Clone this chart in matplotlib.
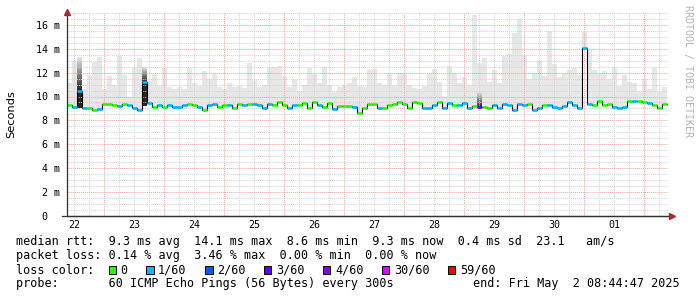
import numpy as np
import pandas as pd
import matplotlib
matplotlib.use('Agg')
import matplotlib.pyplot as plt
import matplotlib.dates as mdates
from matplotlib.patches import Rectangle

# 2 hour steps, Apr 22 09:00 -> May 2 09:00
times = pd.date_range('2025-04-22 09:00', periods=120, freq='2h')

median_ms = [
  9.3, 9.15, 10.45, 9.05, 9.0, 8.9, 8.95, 9.35, 9.4, 9.3,
  9.2, 9.35, 9.3, 9.05, 8.9, 11.2, 9.45, 9.15, 9.3, 9.1,
  9.3, 9.1, 9.1, 9.3, 9.4, 9.3, 9.1, 8.85, 9.25, 9.4,
  9.1, 9.3, 9.3, 9.0, 9.4, 9.3, 9.35, 9.35, 9.3, 9.0,
  9.35, 9.3, 9.5, 9.3, 9.0, 9.3, 9.25, 9.45, 9.0, 9.5,
  9.25, 9.15, 9.45, 8.95, 9.2, 9.2, 9.2, 9.15, 8.6, 9.0,
  9.4, 9.4, 9.05, 9.05, 9.25, 9.35, 9.55, 9.35, 9.0, 9.55,
  9.45, 9.05, 9.0, 9.3, 9.5, 9.0, 9.45, 9.3, 9.3, 9.45,
  9.05, 9.2, 9.1, 9.1, 9.05, 9.3, 9.0, 9.35, 9.3, 8.85,
  9.35, 9.25, 9.35, 8.9, 9.05, 9.3, 9.3, 9.15, 9.0, 9.2,
  9.55, 9.3, 9.0, 14.05, 9.35, 9.25, 9.6, 9.3, 9.35, 9.1,
  9.05, 9.15, 9.6, 9.6, 9.65, 9.55, 9.45, 9.3, 9.0, 9.4,
]

# lost pings out of 60
loss = [
  0, 1, 1, 1, 0, 0, 1, 0, 0, 0, 1, 0, 1, 1, 1, 1, 1, 0, 1, 0,
  1, 1, 1, 1, 0, 0, 1, 0, 1, 1, 0, 0, 1, 0, 0, 1, 0, 1, 1, 1,
  1, 0, 0, 0, 1, 1, 0, 0, 0, 0, 1, 0, 0, 1, 0, 0, 0, 1, 0, 0,
  0, 0, 1, 0, 0, 0, 0, 0, 0, 0, 0, 1, 1, 1, 0, 1, 1, 0, 1, 1,
  1, 0, 3, 0, 0, 1, 1, 1, 1, 1, 1, 1, 0, 1, 1, 0, 1, 1, 1, 1,
  1, 1, 1, 1, 1, 0, 0, 0, 0, 1, 1, 1, 0, 1, 0, 0, 1, 0, 0, 0,
]

# highest ping of each step (top of the smoke)
smoke_hi = [
  11.1, 13.0, 13.2, 10.6, 11.8, 12.9, 13.3, 10.6, 11.7, 10.95,
  13.4, 11.8, 10.0, 12.4, 13.2, 12.4, 11.3, 11.9, 10.9, 12.4,
  10.8, 10.6, 10.8, 10.6, 12.4, 11.1, 10.9, 12.1, 11.5, 11.9,
  10.8, 10.6, 11.1, 10.8, 10.9, 10.7, 12.8, 11.4, 10.8, 11.0,
  12.5, 12.5, 12.6, 11.7, 10.8, 11.5, 10.5, 11.0, 12.4, 11.9,
  11.1, 12.5, 11.0, 10.4, 10.8, 11.0, 11.1, 11.6, 10.9, 10.8,
  12.2, 12.3, 11.1, 11.0, 11.9, 11.0, 12.0, 11.9, 11.0, 10.7,
  10.6, 10.9, 11.9, 12.3, 11.2, 10.0, 12.6, 12.0, 11.1, 11.6,
  11.0, 16.8, 12.8, 13.2, 11.2, 12.2, 11.1, 13.4, 13.6, 15.3,
  16.5, 13.5, 11.5, 12.0, 13.0, 11.7, 15.5, 12.7, 11.6, 12.0,
  12.2, 12.4, 11.8, 15.4, 14.0, 12.2, 11.9, 12.1, 11.5, 12.5,
  10.9, 11.8, 11.2, 11.1, 10.5, 11.5, 10.6, 12.4, 10.4, 10.8,
]

# steps with dense dark smoke
burst_idx = [2, 15, 82]
burst_lo = [9.0, 9.2, 9.1]
burst_hi = [13.2, 12.4, 10.3]

loss_levels = [0, 1, 2, 3, 4, 30, 59]
loss_labels = ['0', '1/60', '2/60', '3/60', '4/60', '30/60', '59/60']
loss_colors = ['#26ff00', '#00b8ff', '#0059ff', '#5e00ff', '#7e00ff', '#dd00ff', '#ff0000']

W, H = 697, 297
MONO = 'DejaVu Sans Mono'

def fx(px):
  return px / W

def fy(py):
  return 1 - py / H

def loss_color(n):
  c = loss_colors[0]
  for lv, col in zip(loss_levels, loss_colors):
    if n >= lv:
      c = col
  return c

fig = plt.figure(figsize=(W / 100, H / 100), dpi=100)
y0, y1 = 0, 17.1
ax_left, ax_right, ax_bot = 67, 668, 215.7
ax_top = ax_bot - (y1 - y0) * 11.92
ax = fig.add_axes([fx(ax_left), fy(ax_bot), (ax_right - ax_left) / W, (ax_bot - ax_top) / H])

tn = mdates.date2num(times.to_pydatetime())
step = 2 / 24
med = np.array(median_ms)
hi = np.array(smoke_hi)
t_edges = np.append(tn, tn[-1] + step)

# smoke
ax.fill_between(t_edges, np.append(med, med[-1]), np.append(hi, hi[-1]),
                step='post', color='#e7e7e7', lw=0, zorder=1)

for i, lo, top in zip(burst_idx, burst_lo, burst_hi):
  ys = np.linspace(lo, top, 80)
  m = med[i]
  dark = np.where(ys <= m, 0.85, 0.1 + 0.75 * (1 - (ys - m) / max(top - m, 1e-6)))
  img = np.repeat((1 - dark)[:, None], 2, axis=1)
  ax.imshow(img, extent=[tn[i], tn[i] + step, lo, top], origin='lower', cmap='gray',
            vmin=0, vmax=1, aspect='auto', zorder=2, interpolation='bilinear')

# grid
start = mdates.date2num(pd.Timestamp('2025-04-22').to_pydatetime())
for k in range(0, 11 * 4):
  t = start + k * 0.25
  if k % 4 == 0:
    ax.axvline(t, color='#f0a0a0', lw=0.7, ls=(0, (1, 1)), zorder=2.5)
  else:
    ax.axvline(t, color='#d2d2d2', lw=0.7, ls=(0, (1, 1)), zorder=2.5)
for v in np.arange(0.5, 17.01, 0.5):
  if abs(v % 2) < 1e-9:
    ax.axhline(v, color='#f0a0a0', lw=0.7, ls=(0, (1, 1)), zorder=2.5)
  else:
    ax.axhline(v, color='#d2d2d2', lw=0.7, ls=(0, (1, 1)), zorder=2.5)

# median line + loss colour
ax.step(t_edges, np.append(med, med[-1]), where='post', color='#000000', lw=0.8, zorder=4)
ax.hlines(med, tn, tn + step, colors=[loss_color(n) for n in loss], lw=1.9, zorder=5)

ax.set_xlim(start + 0.383, start + 10.4)
ax.set_ylim(y0, y1)

ax.spines['top'].set_visible(False)
ax.spines['right'].set_visible(False)
for s in ('left', 'bottom'):
  ax.spines[s].set_color('#303030')
  ax.spines[s].set_linewidth(0.9)
  ax.spines[s].set_zorder(6)

ax.set_yticks(np.arange(0, 17, 2))
ax.set_yticklabels(['0  '] + ['%d m' % v for v in range(2, 17, 2)])
noon = [start + d + 0.5 for d in range(10)]
ax.set_xticks(noon)
ax.xaxis.set_major_formatter(mdates.DateFormatter('%d'))
ax.tick_params(length=0, labelsize=7.2, colors='#000000')
ax.tick_params(axis='y', pad=5)
ax.tick_params(axis='x', pad=3)
for lab in ax.get_xticklabels() + ax.get_yticklabels():
  lab.set_family(MONO)

# arrows
ax.plot([0], [1.0], marker='^', ms=4, color='#a52a2a', transform=ax.transAxes, clip_on=False, zorder=7)
ax.plot([1.0 + 4 / 601], [0], marker='>', ms=4, color='#a52a2a', transform=ax.transAxes, clip_on=False, zorder=7)
ax.plot([-5 / 601, 1.0 + 4 / 601], [0, 0], color='#303030', lw=0.9, transform=ax.transAxes, clip_on=False, zorder=6)

fig.text(fx(11), fy(114), 'Seconds', rotation=90, ha='center', va='center', fontsize=8.2, family='DejaVu Sans')
fig.text(fx(688), fy(5), 'RRDTOOL / TOBI OETIKER', rotation=270, ha='center', va='top',
         fontsize=7.2, family=MONO, color='#b4b4b4')

# legend
fs = 8.5
fig.text(fx(16), fy(244.5), 'median rtt:  9.3 ms avg  14.1 ms max  8.6 ms min  9.3 ms now  0.4 ms sd  23.1   am/s',
         family=MONO, fontsize=fs, va='baseline')
fig.text(fx(16), fy(259), 'packet loss: 0.14 % avg  3.46 % max  0.00 % min  0.00 % now',
         family=MONO, fontsize=fs, va='baseline')
fig.text(fx(16), fy(273.5), 'loss color:', family=MONO, fontsize=fs, va='baseline')
bx = 108.5
cw = 7.11
for lab, col in zip(loss_labels, loss_colors):
  fig.patches.append(Rectangle((fx(bx), fy(273.5)), 7.5 / W, 7.5 / H, transform=fig.transFigure,
                               facecolor=col, edgecolor='#000000', lw=0.7))
  fig.text(fx(bx + 12), fy(273.5), lab, family=MONO, fontsize=fs, va='baseline')
  bx = bx + 12 + len(lab) * cw + 18.5
fig.text(fx(16), fy(287.5), 'probe:       60 ICMP Echo Pings (56 Bytes) every 300s',
         family=MONO, fontsize=fs, va='baseline')
fig.text(fx(680), fy(287.5), 'end: Fri May  2 08:44:47 2025', family=MONO, fontsize=fs,
         va='baseline', ha='right')

fig.savefig('out.png', dpi=100)
